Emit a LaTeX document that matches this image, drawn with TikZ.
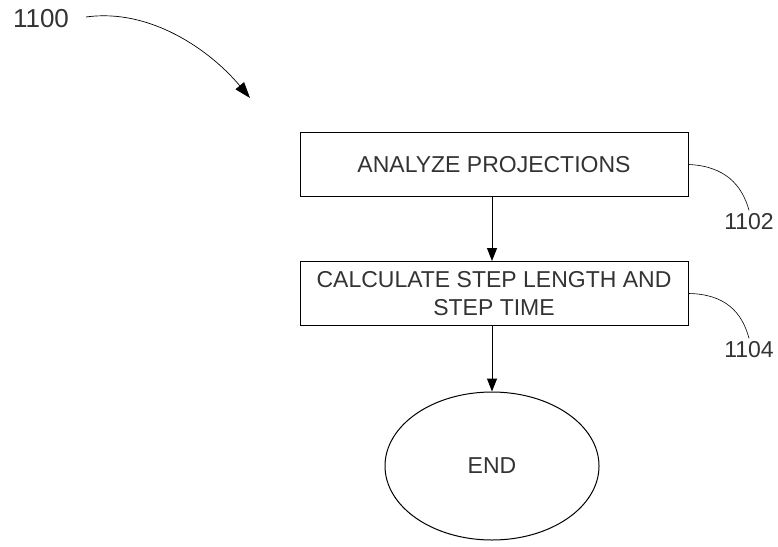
\documentclass[tikz,border=0pt]{standalone}
\usepackage{fontspec}
\setmainfont{Liberation Sans}
\usetikzlibrary{shapes.geometric,arrows.meta}

\begin{document}
\begin{tikzpicture}[x=1pt,y=-1pt,
    font=\fontsize{23}{28}\selectfont,text=black!80,
    stepbox/.style={draw,rectangle,minimum width=388,minimum height=64,align=center,line width=1pt},
    endoval/.style={draw,ellipse,minimum width=214,minimum height=148,line width=1pt},
    flow/.style={line width=1pt,-{Triangle[length=13pt,width=10pt]}},
    leader/.style={line width=0.6pt}]
      \useasboundingbox (0,0) rectangle (778,546) ;
      \node[stepbox] (analyze) at (494,164.5) {ANALYZE PROJECTIONS} ;
      \node[stepbox] (calc) at (494,293.5) {CALCULATE STEP LENGTH AND\\STEP TIME} ;
      \node[endoval] (end) at (492,466) {END} ;
      \draw[flow] (analyze.south -| end.north) -- (calc.north -| end.north) ;
      \draw[flow] (calc.south -| end.north) -- (end.north) ;
      \node[font=\fontsize{26}{30}\selectfont] (fig) at (41,19) {1100} ;
      \coordinate (figtip) at (250,98) ;
      \draw[line width=0.7pt,-{Triangle[length=16pt,width=11pt]}] (86,17) .. controls (150,8) and (210,50) .. (figtip) ;
      \node (r1102) at (749,222) {1102} ;
      \node (r1104) at (749,350) {1104} ;
      \draw[leader] (analyze.east) .. controls (725,166) and (742,185) .. (r1102.north) ;
      \draw[leader] (calc.east) .. controls (725,294) and (742,312) .. (r1104.north) ;
    \end{tikzpicture}
\end{document}
